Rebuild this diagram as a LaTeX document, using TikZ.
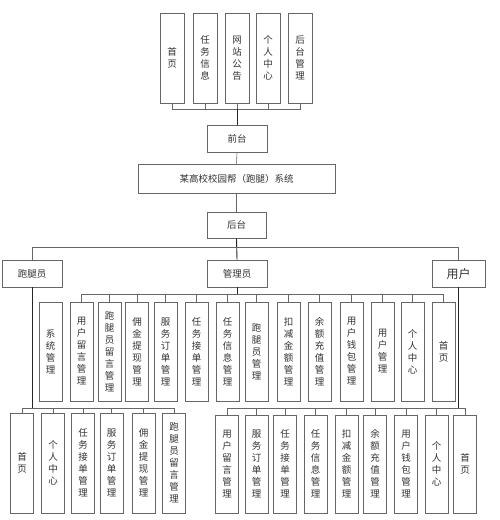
\documentclass[tikz,border=0pt]{standalone}
\usepackage{fontspec}
\setmainfont{Noto Sans CJK SC}
\usepackage{tikz}
\usetikzlibrary{calc}

\begin{document}
\begin{tikzpicture}[x=1pt,y=-1pt]

% Define styles
\tikzset{
    box/.style={draw=black!60, line width=0.6pt, inner sep=0pt, align=center,
        font=\fontsize{9.5}{12}\selectfont, text=black!80},
    hbox/.style={box, minimum height=27pt},
    vbox/.style={box, minimum width=23pt, minimum height=99pt},
    link/.style={draw=black!60, line width=0.6pt},
    trunk/.style={draw=black!85, line width=0.9pt}
}

\useasboundingbox[fill=white] (0,0) rectangle (499,520);

% front end pages
\foreach \x/\t [count=\i] in {172/{首\\页}, 205/{任\\务\\信\\息}, 237/{网\\站\\公\\告},
    268/{个\\人\\中\\心}, 300/{后\\台\\管\\理}}
    \node[box, minimum width=24pt, minimum height=90pt] (f\i) at (\x,58) {\t};

% main chain
\node[hbox, minimum width=60pt] (qiantai) at (237,138.5) {前台};
\node[box, minimum width=197pt, minimum height=29pt] (sys) at (236.5,178.5) {某高校校园帮（跑腿）系统};
\node[hbox, minimum width=59pt, minimum height=26pt] (houtai) at (236.5,225) {后台};

% roles
\node[hbox, minimum width=60pt] (runner) at (32,273.5) {跑腿员};
\node[hbox, minimum width=60pt] (admin) at (237,273.5) {管理员};
\node[hbox, minimum width=53pt, font=\fontsize{12}{14}\selectfont] (user) at (458.5,273.5) {用户};

% admin modules
\foreach \x/\t [count=\i] in {50.5/{系\\统\\管\\理}, 81.5/{用\\户\\留\\言\\管\\理},
    109.5/{跑\\腿\\员\\留\\言\\管\\理}, 137/{佣\\金\\提\\现\\管\\理},
    165.5/{服\\务\\订\\单\\管\\理}, 196.5/{任\\务\\接\\单\\管\\理},
    227.5/{任\\务\\信\\息\\管\\理}, 256.5/{跑\\腿\\员\\管\\理},
    288.5/{扣\\减\\金\\额\\管\\理}, 319.5/{余\\额\\充\\值\\管\\理},
    351.5/{用\\户\\钱\\包\\管\\理}, 382.5/{用\\户\\管\\理},
    412.5/{个\\人\\中\\心}, 443.5/{首\\页}}
    \node[vbox] (a\i) at (\x,351.5) {\t};

% runner modules
\foreach \x/\t [count=\i] in {22/{首\\页}, 53/{个\\人\\中\\心},
    83/{任\\务\\接\\单\\管\\理}, 111.5/{服\\务\\订\\单\\管\\理},
    143.5/{佣\\金\\提\\现\\管\\理}, 174/{跑\\腿\\员\\留\\言\\管\\理}}
    \node[vbox, minimum height=100pt] (r\i) at (\x,463) {\t};

% user modules
\foreach \x/\t [count=\i] in {227/{用\\户\\留\\言\\管\\理}, 256.5/{服\\务\\订\\单\\管\\理},
    285/{任\\务\\接\\单\\管\\理}, 315.5/{任\\务\\信\\息\\管\\理},
    346.5/{扣\\减\\金\\额\\管\\理}, 375/{余\\额\\充\\值\\管\\理},
    406/{用\\户\\钱\\包\\管\\理}, 436.5/{个\\人\\中\\心}, 465/{首\\页}}
    \node[vbox, minimum height=98pt] (u\i) at (\x,464) {\t};

% bus points
\coordinate (topbus) at (237,109);
\coordinate (rolebus) at (237,247);
\coordinate (adminbus) at (237,294);
\coordinate (runbus) at (32,408);
\coordinate (userbus) at (458.5,408);

% connectors
\foreach \i in {1,...,5}
    \draw[link] (f\i.south) |- (topbus);
\draw[trunk] (topbus) -- (qiantai.north);
\draw[link] (qiantai.south) -- (sys.north);
\draw[link] (sys.south) -- (houtai.north);
\draw[trunk] (houtai.south) -- (admin.north);
\draw[link] (runner.north) |- (rolebus);
\draw[link] (user.north) |- (rolebus);

\foreach \i in {2,...,14}
    \draw[link] (a\i.north) |- (adminbus);
\draw[trunk] (admin.south) -- (adminbus);

\foreach \i in {1,...,6}
    \draw[link] (r\i.north) |- (runbus);
\draw[trunk] (runner.south) -- (runbus);

\foreach \i in {1,...,9}
    \draw[link] (u\i.north) |- (userbus);
\draw[trunk] (user.south) -- (userbus);

\end{tikzpicture}
\end{document}
